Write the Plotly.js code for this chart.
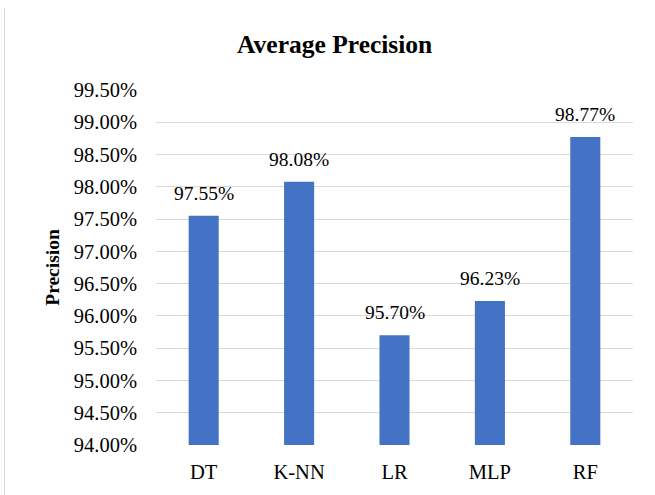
<!DOCTYPE html>
<html>
<head>
<meta charset="utf-8">
<script src="https://cdn.plot.ly/plotly-3.0.1.min.js"></script>
<style>html,body{margin:0;padding:0;background:#fff;}#chart{width:655px;height:495px;}</style>
</head>
<body>
<div id="chart"></div>
<script>
const categories = ["DT", "K-NN", "LR", "MLP", "RF"];
const precision = [97.55, 98.08, 95.70, 96.23, 98.77];
const yTicks = [94.0, 94.5, 95.0, 95.5, 96.0, 96.5, 97.0, 97.5, 98.0, 98.5, 99.0, 99.5];

const font = "Liberation Serif";

const trace = {
  type: "bar",
  x: categories,
  y: precision,
  marker: {color: "#4472C4"},
  hoverinfo: "none"
};

const labels = categories.map((c, i) => ({
  x: c, y: precision[i], xref: "x", yref: "y",
  text: precision[i].toFixed(2) + "%",
  showarrow: false, yanchor: "bottom", xanchor: "center",
  yshift: 10,
  font: {family: font, size: 19.5, color: "#000"}
}));

const layout = {
  width: 655,
  height: 495,
  margin: {l: 156, r: 22, t: 90, b: 50},
  paper_bgcolor: "#fff",
  plot_bgcolor: "#fff",
  bargap: 0.685,
  showlegend: false,
  title: {
    text: "<b>Average Precision</b>",
    font: {family: font, size: 25.5, color: "#000"},
    x: 0.511, xanchor: "center",
    y: 0.91, yanchor: "middle"
  },
  xaxis: {
    type: "category",
    tickfont: {family: font, size: 20.5, color: "#000"},
    showline: false,
    ticks: "",
    ticklabelstandoff: 12,
    fixedrange: true
  },
  yaxis: {
    range: [94, 99.5],
    tickvals: yTicks,
    ticktext: yTicks.map(v => v.toFixed(2) + "%"),
    tickfont: {family: font, size: 20.5, color: "#000"},
    showgrid: true,
    gridcolor: "#d9d9d9",
    gridwidth: 1,
    zeroline: false,
    showline: false,
    ticks: "",
    ticklabelstandoff: 18,
    title: {
      text: "<b>Precision</b>",
      font: {family: font, size: 19.5, color: "#000"},
      standoff: 8
    },
    automargin: false,
    fixedrange: true
  },
  annotations: labels,
  shapes: [{
    type: "line",
    xref: "paper", yref: "paper",
    x0: (4.5 - 156) / 477, x1: (4.5 - 156) / 477,
    y0: -50 / 355, y1: (355 + 82) / 355,
    line: {color: "#d9d9d9", width: 1}
  }]
};

Plotly.newPlot("chart", [trace], layout, {displayModeBar: false, staticPlot: true});
</script>
</body>
</html>
